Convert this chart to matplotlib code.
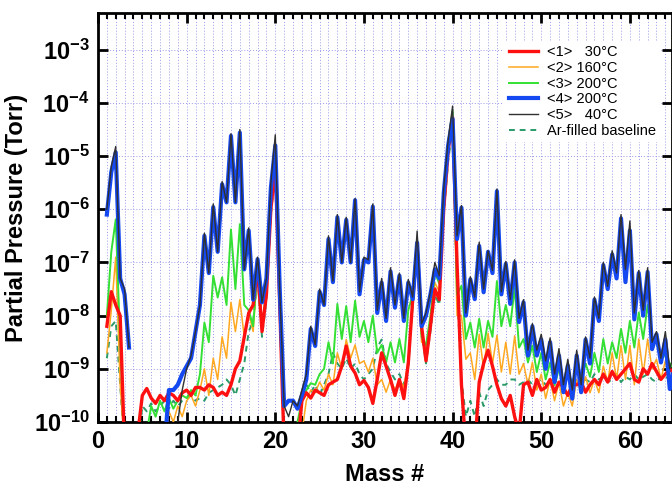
import numpy as np
import matplotlib
matplotlib.use("Agg")
import matplotlib.pyplot as plt
from matplotlib.ticker import MultipleLocator, FixedLocator, FuncFormatter

plt.rcParams['font.family'] = ['Liberation Sans', 'DejaVu Sans']
plt.rcParams['mathtext.fontset'] = 'custom'
plt.rcParams['mathtext.rm'] = 'Liberation Sans'
plt.rcParams['mathtext.bf'] = 'Liberation Sans:bold'

# mass axis: 1 .. 65 in half steps (peaks at integers, valleys between)
mass = np.arange(1.0, 65.01, 0.5)
N = np.nan

# log10 of partial pressure (Torr); -10.5 = below the axis
run1_30C = [
    -8.2, -7.55, -7.8, -8.0, -10.5, -10.5, -10.5, -10.2, -9.5, -9.37, -9.55, -9.65, -9.5, -9.6, -9.45, -9.5, -9.6, -9.45, -9.4, -9.5,
    -9.35, -9.35, -9.4, -9.3, -9.35, -9.5, -9.44, -9.5, -9.3, -9.0, -8.85, -8.4, -7.95, -7.8, -7.1, -8.3, -7.6, -6.0, -5.2, -7.8,
    -10.5, -10.5, -10.5, -10.5, -9.6, -9.45, -9.55, -9.4, -9.45, -9.5, -9.3, -9.25, -9.2, -8.95, -8.57, -8.95, -9.08, -9.3, -9.22, -9.35,
    -9.65, -9.2, -8.7, -8.95, -9.2, -9.5, -9.2, -9.56, -8.9, -7.7, -6.69, -8.2, -8.85, -8.2, -7.5, -7.7, -6.0, -4.9, -4.28, -7.0,
    -9.3, -10.5, -10.5, -10.5, -9.25, -8.9, -8.65, -8.95, -9.3, -9.56, -9.7, -9.5, -9.9, -10.2, -9.3, -9.25, -9.5, -9.2, -9.4, -9.35,
    -9.2, -9.44, -9.25, -9.35, -9.5, -9.3, -9.3, -9.25, -9.44, -9.3, -9.2, -9.3, -9.1, -9.25, -9.05, -9.2, -9.1, -9.0, -8.9, -9.2,
    -9.25, -9.0, -9.1, -8.9, -9.05, -9.2, -9.1, -9.0, -9.1]

run2_160C = [
    -8.7, -7.9, -6.9, -9.3, -10.5, -10.5, -10.5, -10.5, -10.5, -10.5, -10.5, -10.5, -10.5, -10.5, -9.8, -10.0, -9.7, -9.9, -9.6, -9.5,
    -9.7, -9.4, -9.0, -9.5, -8.8, -9.2, -8.4, -8.8, -7.75, -8.3, -7.7, -8.4, -7.95, -8.3, -7.1, -8.2, -7.5, -5.9, -5.05, -7.9,
    -10.5, -10.5, -10.5, -10.5, -10.2, -9.6, -9.4, -9.45, -9.25, -9.4, -9.1, -9.3, -8.7, -9.0, -8.45, -8.8, -8.55, -8.9, -8.85, -9.06,
    -8.8, -9.3, -9.2, -9.44, -9.2, -9.4, -9.2, -9.35, -8.82, -7.8, -6.65, -8.5, -8.56, -8.1, -7.38, -7.55, -5.8, -4.85, -4.3, -8.0,
    -8.0, -8.82, -8.7, -9.2, -8.35, -9.0, -8.33, -8.9, -8.37, -9.06, -8.5, -9.1, -8.38, -9.1, -8.9, -9.3, -8.88, -9.4, -9.1, -9.56,
    -9.2, -9.6, -9.25, -9.7, -9.45, -9.7, -9.2, -9.45, -9.15, -9.45, -9.2, -9.45, -8.95, -9.25, -8.7, -9.2, -8.56, -9.2, -8.56, -9.3,
    -8.44, -9.1, -8.44, -9.0, -8.82, -9.2, -8.85, -9.2, -9.1]

run3_200C = [
    -8.0, -6.8, -6.19, -8.5, -10.5, -10.5, -10.5, -10.5, -10.5, -10.2, -9.7, -9.9, -9.6, -9.8, -9.55, -9.75, -9.6, -9.5, -9.55, -9.4,
    -9.5, -9.1, -8.13, -8.5, -7.25, -7.66, -7.28, -7.8, -6.38, -7.5, -6.28, -7.8, -7.9, -8.2, -7.1, -8.25, -7.5, -5.7, -4.9, -7.8,
    -10.5, -10.5, -10.5, -10.0, -9.6, -9.4, -9.27, -9.3, -9.1, -9.0, -8.5, -8.9, -7.78, -8.44, -7.82, -8.5, -7.72, -8.4, -8.1, -8.5,
    -8.0, -8.7, -8.55, -8.88, -8.5, -8.88, -8.44, -8.88, -7.9, -7.6, -6.56, -8.4, -8.56, -8.0, -7.19, -7.4, -5.7, -4.75, -4.15, -7.6,
    -7.44, -8.44, -8.13, -8.6, -8.06, -8.6, -8.1, -8.4, -7.35, -8.2, -7.8, -8.2, -7.47, -8.6, -8.44, -8.88, -8.56, -9.06, -8.7, -9.2,
    -8.88, -9.31, -9.0, -9.3, -9.1, -9.3, -8.94, -9.2, -8.9, -9.15, -8.7, -9.06, -8.44, -8.9, -8.5, -8.8, -8.25, -8.7, -8.1, -8.6,
    -7.94, -8.44, -7.8, -8.4, -8.5, -8.8, -8.75, -8.9, -9.0]

run4_200C = [
    -6.1, -5.3, -4.93, -7.3, -7.6, -8.6, N, N, N, N, N, N, N, -10.5, -9.4, -9.4, -9.3, -9.1, -8.95, -8.8,
    -8.3, -7.8, -6.5, -7.2, -5.96, -6.8, -5.53, -5.87, -4.62, -5.87, -4.56, -7.13, -6.4, -7.7, -6.94, -7.75, -7.3, -5.6, -4.8, -7.5,
    -9.7, -9.6, -9.6, -9.75, -9.5, -9.2, -8.25, -8.57, -7.55, -7.8, -6.56, -7.37, -6.15, -7.0, -6.2, -7.0, -5.83, -7.6, -6.95, -7.0,
    -5.95, -7.95, -7.38, -8.1, -7.17, -7.85, -7.25, -8.1, -7.38, -7.69, -6.63, -8.2, -8.0, -7.6, -7.13, -7.3, -5.7, -4.8, -4.3, -6.56,
    -5.97, -8.0, -7.32, -7.69, -6.69, -7.56, -6.8, -7.2, -5.66, -7.6, -7.03, -7.78, -7.0, -8.12, -7.75, -8.75, -8.2, -8.75, -8.45, -9.0,
    -8.5, -9.25, -8.75, -9.44, -8.94, -9.56, -8.75, -9.44, -8.45, -8.9, -7.7, -8.1, -7.05, -7.5, -6.85, -7.3, -6.17, -7.37, -6.4, -8.07,
    -7.2, -8.0, -7.18, -8.63, -8.35, -8.88, -8.45, -9.38, -9.0]

run5_40C = [
    -6.0, -5.2, -4.82, -7.3, -7.5, -8.6, N, N, N, N, N, N, N, -10.5, -10.5, -10.3, -10.0, -9.4, -9.0, -8.75,
    -8.3, -7.8, -6.45, -7.2, -5.9, -6.8, -5.48, -5.87, -4.58, -5.87, -4.5, -7.13, -6.35, -7.7, -6.9, -7.75, -7.3, -5.5, -4.6, -7.5,
    -9.7, -9.9, -9.6, -9.7, -9.4, -9.1, -8.2, -8.55, -7.5, -7.8, -6.5, -7.35, -6.1, -7.0, -6.15, -7.0, -5.8, -7.55, -6.9, -6.95,
    -5.9, -7.9, -7.3, -8.05, -7.1, -7.8, -7.2, -8.05, -7.32, -7.65, -6.41, -8.15, -7.95, -7.55, -7.0, -7.25, -5.6, -4.7, -4.06, -6.5,
    -5.93, -7.95, -7.27, -7.65, -6.62, -7.5, -6.78, -7.15, -5.62, -7.55, -6.98, -7.7, -6.95, -8.05, -7.7, -8.65, -8.15, -8.65, -8.35, -8.85,
    -8.42, -9.1, -8.62, -9.3, -8.82, -9.4, -8.65, -9.3, -8.4, -8.8, -7.65, -8.05, -7.0, -7.45, -6.78, -7.2, -6.1, -7.13, -6.22, -7.95,
    -7.15, -7.9, -7.1, -8.5, -8.3, -8.8, -8.3, -9.0, -8.7]

ar_baseline = [
    -8.8, -8.2, -8.1, -9.3, -10.5, -10.5, -10.5, -10.5, -9.7, -9.8, -9.65, -9.8, -9.7, -9.6, -9.75, -9.6, -9.7, -9.6, -9.55, -9.5,
    -9.6, -9.55, -9.6, -9.45, -9.4, -9.35, -9.3, -9.2, -9.3, -9.5, -9.2, -8.9, -8.3, -8.1, -7.3, -8.4, -7.7, -6.1, -5.3, -7.9,
    -10.5, -10.5, -10.5, -10.5, -9.6, -9.3, -9.45, -9.3, -9.5, -9.3, -9.1, -8.7, -8.9, -9.0, -8.8, -9.0, -8.9, -9.1, -9.2, -9.1,
    -9.0, -8.6, -8.45, -8.9, -9.06, -9.2, -9.1, -9.3, -8.95, -7.8, -6.8, -8.3, -8.9, -8.3, -7.6, -7.8, -6.1, -5.1, -4.45, -7.5,
    -9.2, -9.9, -9.6, -9.9, -9.44, -9.7, -9.4, -9.3, -9.2, -9.3, -9.3, -9.2, -9.2, -9.3, -9.25, -9.2, -9.3, -9.25, -9.2, -9.3,
    -9.25, -9.2, -9.3, -9.25, -9.3, -9.2, -9.25, -9.3, -9.2, -9.25, -9.1, -9.2, -9.15, -9.25, -9.2, -9.1, -9.25, -9.15, -9.2, -9.1,
    -9.2, -9.15, -9.1, -9.2, -9.25, -9.15, -9.2, -9.1, -9.2]

labels = ["<1>   30°C", "<2> 160°C", "<3> 200°C", "<4> 200°C", "<5>   40°C", "Ar-filled baseline"]

fig = plt.figure(figsize=(6.72, 4.87), dpi=100)
ax = fig.add_axes([98 / 672, 1 - 422 / 487, 1 - 98 / 672, (422 - 13) / 487])

series = [run1_30C, run2_160C, run3_200C, run4_200C, run5_40C, ar_baseline]
colors = ['#ff1010', '#ffa820', '#33e033', '#1448f0', '#303030', '#2a9a68']
widths = [2.4, 1.1, 1.4, 3.0, 1.0, 1.4]
styles = ['-', '-', '-', '-', '-', (0, (3, 2.5))]
zorders = [5, 3, 4, 6, 7, 2]

for vals, lab, c, w, ls, z in zip(series, labels, colors, widths, styles, zorders):
    ax.plot(mass, 10.0 ** np.array(vals), color=c, lw=w, ls=ls, label=lab, zorder=z)

ax.set_yscale('log')
ax.set_xlim(0, 64.75)
ax.set_ylim(1e-10, 10 ** -2.31)

ax.xaxis.set_major_locator(MultipleLocator(10))
ax.xaxis.set_minor_locator(MultipleLocator(1))
ax.yaxis.set_major_locator(FixedLocator([10.0 ** k for k in range(-10, -2)]))
ax.yaxis.set_minor_locator(FixedLocator([]))
ax.yaxis.set_major_formatter(FuncFormatter(lambda v, p: r'$\mathbf{10^{%d}}$' % round(np.log10(v))))

ax.tick_params(which='both', direction='in', top=True, right=True, width=2, color='black')
ax.tick_params(which='major', length=7, pad=6)
ax.tick_params(axis='y', which='major', labelsize=17)
ax.tick_params(axis='x', which='major', labelsize=17)
ax.tick_params(which='minor', length=4, width=1.5)
for lab in ax.get_xticklabels():
    lab.set_fontweight('bold')
for sp in ax.spines.values():
    sp.set_linewidth(2)

ax.grid(True, which='minor', axis='x', color='#9a9aea', ls=(0, (1, 2)), lw=0.7)
ax.grid(True, which='major', axis='both', color='#9a9aea', ls=(0, (1, 2)), lw=0.7)
ax.set_axisbelow(True)

ax.set_xlabel("Mass #", fontsize=17, fontweight='bold', labelpad=7)
ax.set_ylabel("Partial Pressure (Torr)", fontsize=17, fontweight='bold', labelpad=4)

leg = ax.legend(loc='upper left', bbox_to_anchor=(0.695, 0.95), fontsize=10.5, frameon=True,
                fancybox=False, edgecolor='none', facecolor='white', framealpha=1,
                handlelength=2.0, handletextpad=0.6, labelspacing=0.12, borderpad=0.3)
leg.set_zorder(10)

fig.savefig("out.png", dpi=100)
